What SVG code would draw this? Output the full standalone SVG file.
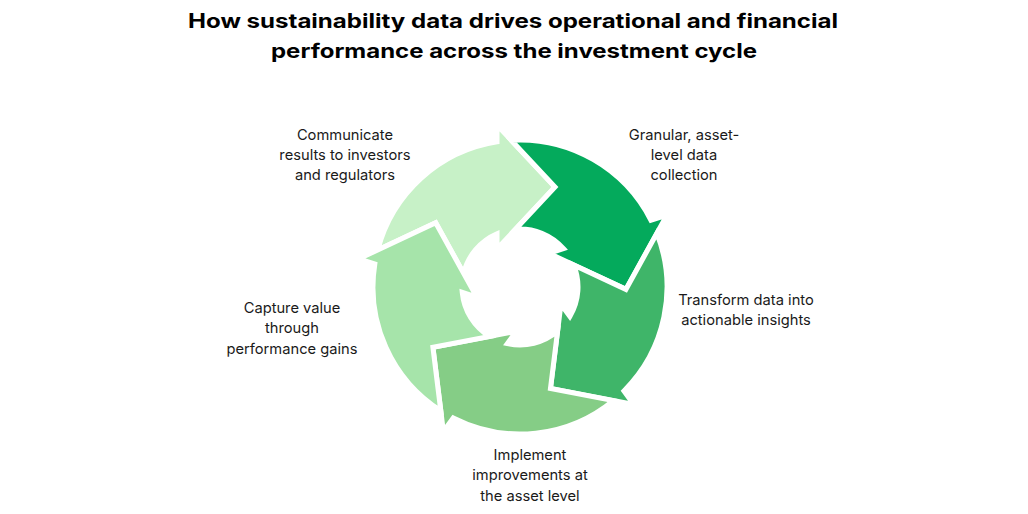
<svg xmlns="http://www.w3.org/2000/svg" width="1028" height="514" viewBox="0 0 1028 514">
<style>
.title{font-family:Inter,"Liberation Sans",sans-serif;font-weight:700;font-size:20px;fill:#000;text-anchor:middle}
.lbl{font-family:Inter,"Liberation Sans",sans-serif;font-size:14.7px;fill:#1a1a1a;text-anchor:middle}
.arr{stroke:#fff;stroke-width:5;stroke-linejoin:miter;stroke-miterlimit:6}
</style>
<defs>
<path id="arrow" d="M -142.26 -37.04 A 147 147 0 0 1 -23 -145.19 L -23 -162 L 35 -100 L -23 -38 L -23 -53.25 A 58 58 0 0 0 -56.375 -13.64 L -84.29 -64.19 Z"/>
</defs>
<rect width="1028" height="514" fill="#fff"/>
<text class="title" x="513" y="28" textLength="650" lengthAdjust="spacingAndGlyphs">How sustainability data drives operational and financial</text>
<text class="title" x="514" y="58" textLength="486" lengthAdjust="spacingAndGlyphs">performance across the investment cycle</text>
<g id="connectors"></g>
<g id="node-communicate">
<use href="#arrow" class="arr" fill="#c7f1c7" transform="translate(520 287) rotate(0)"/>
<text class="lbl" x="345" y="140">Communicate</text>
<text class="lbl" x="345" y="160">results to investors</text>
<text class="lbl" x="345" y="180">and regulators</text>
</g>
<g id="node-granular">
<use href="#arrow" class="arr" fill="#04aa5c" transform="translate(520 287) rotate(72)"/>
<text class="lbl" x="684" y="140">Granular, asset-</text>
<text class="lbl" x="684" y="160">level data</text>
<text class="lbl" x="684" y="180">collection</text>
</g>
<g id="node-transform">
<use href="#arrow" class="arr" fill="#3fb569" transform="translate(520 287) rotate(144)"/>
<text class="lbl" x="746" y="305">Transform data into</text>
<text class="lbl" x="746" y="325">actionable insights</text>
</g>
<g id="node-implement">
<use href="#arrow" class="arr" fill="#85cd86" transform="translate(520 287) rotate(216)"/>
<text class="lbl" x="530" y="460">Implement</text>
<text class="lbl" x="530" y="480">improvements at</text>
<text class="lbl" x="530" y="501">the asset level</text>
</g>
<g id="node-capture">
<use href="#arrow" class="arr" fill="#a6e4aa" transform="translate(520 287) rotate(288)"/>
<text class="lbl" x="292" y="313">Capture value</text>
<text class="lbl" x="292" y="333">through</text>
<text class="lbl" x="292" y="354">performance gains</text>
</g>
</svg>
